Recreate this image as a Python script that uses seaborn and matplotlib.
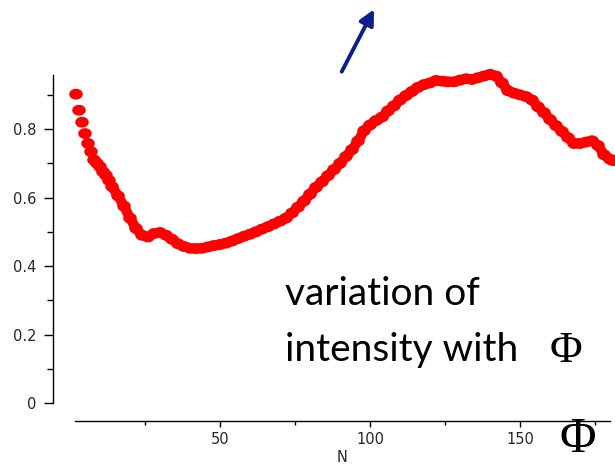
import matplotlib
matplotlib.use("Agg")
import matplotlib.pyplot as plt
import seaborn as sns
import numpy as np
from matplotlib.ticker import FuncFormatter
from matplotlib.path import Path
from matplotlib.patches import FancyArrowPatch

# ---- data ----
phi = [2, 3, 4, 5, 6, 7, 8, 9, 10, 11, 12, 13, 14, 16, 18, 20, 22, 24, 26, 28,
       30, 32, 34, 36, 38, 40, 42, 44, 46, 48, 50, 52, 54, 56, 58, 60, 62, 64,
       66, 68, 70, 72, 74, 76, 78, 80, 82, 84, 86, 88, 90, 92, 94, 96, 98, 100,
       102, 104, 106, 108, 110, 112, 114, 116, 118, 120, 122, 124, 126, 128,
       130, 132, 134, 136, 138, 140, 142, 144, 146, 148, 150, 152, 154, 156,
       158, 160, 162, 164, 166, 168, 170, 172, 174, 176, 178, 180, 181]
intensity = [0.902, 0.855, 0.82, 0.787, 0.758, 0.734, 0.71, 0.70, 0.69, 0.675,
             0.665, 0.65, 0.632, 0.605, 0.575, 0.54, 0.51, 0.49, 0.485, 0.495,
             0.498, 0.49, 0.478, 0.465, 0.457, 0.452, 0.451, 0.452, 0.456, 0.46,
             0.463, 0.467, 0.473, 0.48, 0.487, 0.493, 0.50, 0.508, 0.515, 0.523,
             0.531, 0.54, 0.555, 0.572, 0.59, 0.61, 0.63, 0.646, 0.664, 0.682,
             0.70, 0.72, 0.74, 0.765, 0.795, 0.812, 0.825, 0.835, 0.853, 0.868,
             0.885, 0.898, 0.91, 0.922, 0.93, 0.935, 0.942, 0.940, 0.938, 0.938,
             0.943, 0.947, 0.945, 0.95, 0.955, 0.96, 0.955, 0.935, 0.912, 0.905,
             0.90, 0.895, 0.885, 0.865, 0.848, 0.828, 0.81, 0.793, 0.775, 0.758,
             0.758, 0.762, 0.766, 0.752, 0.725, 0.712, 0.708]
y_major = [0, 0.2, 0.4, 0.6, 0.8]
y_minor = [0.1, 0.3, 0.5, 0.7, 0.9]
x_major = [50, 100, 150]
x_minor = [25, 75, 125, 175]

sns.set_theme(style="white")
plt.rcParams['font.family'] = ['DejaVu Sans']

W, H = 615, 465
fig = plt.figure(figsize=(W / 100, H / 100), dpi=100)
left_px, right_px, top_px, bot_px = 74.5, 610, 75, 403
ax = fig.add_axes([left_px / W, 1 - bot_px / H,
                   (right_px - left_px) / W, (bot_px - top_px) / H])

# slightly flattened round blob marker, like the pixelated Maple symbol
t = np.linspace(0, 2 * np.pi, 40)
blob = Path(np.column_stack([1.25 * np.cos(t), np.sin(t)]), closed=True)

start = 6  # the first few points appear as separate blobs
sns.lineplot(x=phi[start:], y=intensity[start:], ax=ax, color="#ff0000",
             linewidth=7.2, sort=False, legend=False,
             solid_capstyle="round", solid_joinstyle="round")
sns.scatterplot(x=phi, y=intensity, ax=ax, color="#ff0000", s=95,
                marker=blob, edgecolor="none", linewidth=0, legend=False)
for art in list(ax.lines) + list(ax.collections):
    art.set_clip_on(False)

ax.set_xlim(1.5, 180)
ax.set_ylim(0, 0.958)

for s in ["top", "right"]:
    ax.spines[s].set_visible(False)
for s in ["left", "bottom"]:
    ax.spines[s].set_color("black")
    ax.spines[s].set_linewidth(1.0)
ax.spines["left"].set_position(("outward", 15.7))
ax.spines["bottom"].set_position(("outward", 12.6))

ax.set_yticks(y_major)
ax.set_yticks(y_minor, minor=True)
ax.set_xticks(x_major)
ax.set_xticks(x_minor, minor=True)
ax.yaxis.set_major_formatter(FuncFormatter(lambda v, p: "0" if v == 0 else f"{v:.1f}"))
ax.tick_params(axis="y", which="major", direction="out", length=6.5, width=1,
               color="black", labelsize=10.5, pad=5, left=True)
ax.tick_params(axis="y", which="minor", direction="out", length=4.5, width=1,
               color="black", left=True)
ax.tick_params(axis="x", which="major", direction="out", length=4.5, width=1,
               color="black", labelsize=10.5, pad=4, bottom=True)
ax.tick_params(axis="x", which="minor", direction="out", length=3, width=1,
               color="black", bottom=True)
ax.set_xlabel("N", fontsize=10.5, labelpad=2)
ax.grid(False)

# annotation text
fig.text(285 / W, 1 - 305 / H, "variation of", fontsize=28, family="Lato",
         va="baseline", ha="left", color="black")
fig.text(285 / W, 1 - 361 / H, "intensity with", fontsize=28, family="Lato",
         va="baseline", ha="left", color="black")
fig.text(566 / W, 1 - 362 / H, "Φ", fontsize=32, family="Liberation Serif",
         va="baseline", ha="center", color="black")
fig.text(578 / W, 1 - 440 / H, "Φ", fontsize=36, family="Liberation Serif",
         va="center", ha="center", color="black")

# arrow
fig.add_artist(FancyArrowPatch(
    posA=(341.7 / W, 1 - 71.7 / H), posB=(374 / W, 1 - 9.3 / H),
    transform=fig.transFigure, arrowstyle="-|>,head_length=9,head_width=4.5",
    color="#0a1e8c", linewidth=2.8, mutation_scale=1, shrinkA=0, shrinkB=0))

fig.savefig("out.png", dpi=100)
